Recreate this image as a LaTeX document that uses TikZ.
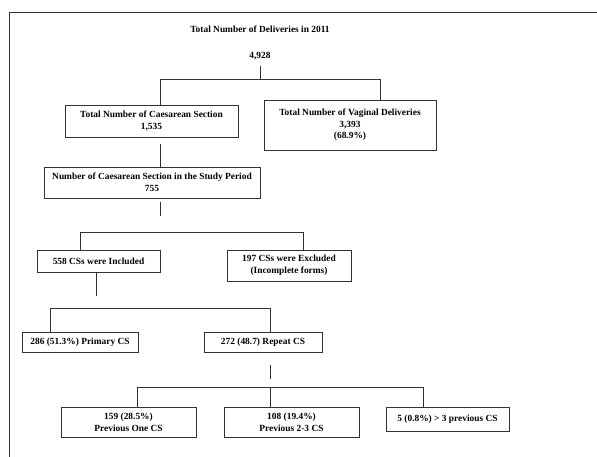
\documentclass[tikz,border=0pt]{standalone}
\usepackage{fontspec}
\setmainfont{Liberation Serif}
\usetikzlibrary{positioning}

\begin{document}
\begin{tikzpicture}[
  x=1pt, y=-1pt,
  line/.style={draw=black!80, line width=0.8pt},
  box/.style={line, fill=white, align=center, inner sep=2pt,
    font=\bfseries\fontsize{9.4}{11.6}\selectfont},
  label/.style={align=center, font=\bfseries\fontsize{9.4}{11.6}\selectfont}
]
\useasboundingbox (0,0) rectangle (597,457);
\draw[line] (9,457) -- (9,12) -- (597,12);

\node[label] (title) at (260,29) {Total Number of Deliveries in 2011};
\node[label] (total) at (260,56) {4,928};
\node[box, minimum width=173pt, minimum height=32pt] (cs) at (151.5,121) {Total Number of Caesarean Section\\1,535};
\node[box, minimum width=172pt, minimum height=50pt] (vag) at (350,125) {Total Number of Vaginal Deliveries\\3,393\\(68.9\%)};
\node[box, minimum width=216pt, minimum height=31pt] (study) at (152,182.5) {Number of Caesarean Section in the Study Period\\755};
\node[box, minimum width=123pt, minimum height=22pt] (incl) at (98.5,261) {558 CSs were Included};
\node[box, minimum width=124pt, minimum height=31pt] (excl) at (289,265.5) {197 CSs were Excluded\\(Incomplete forms)};
\node[box, minimum width=116pt, minimum height=20pt] (prim) at (80,342) {286 (51.3\%) Primary CS};
\node[box, minimum width=118pt, minimum height=20pt] (rep) at (263,342) {272 (48.7) Repeat CS};
\node[box, minimum width=135pt, minimum height=30pt] (one) at (128.5,422) {159 (28.5\%)\\Previous One CS};
\node[box, minimum width=135pt, minimum height=30pt] (two) at (291.5,422) {108 (19.4\%)\\Previous 2-3 CS};
\node[box, minimum width=123pt, minimum height=24pt] (more) at (447.5,419) {5 (0.8\%) > 3 previous CS};

% deliveries split
\coordinate (t1) at (260,66);
\coordinate (t2) at (260,79);
\coordinate (t3) at (160,79);
\coordinate (t4) at (380,79);
\draw[line] (t1) -- (t2);
\draw[line] (t3) -- (t4);
\draw[line] (t3) -- (t3 |- cs.north);
\draw[line] (t4) -- (t4 |- vag.north);

% caesarean to study period
\coordinate (a1) at (160,144);
\draw[line] (a1) -- (a1 |- study.north);

% included / excluded
\coordinate (s1) at (160,202);
\coordinate (s2) at (160,216);
\coordinate (s3) at (80,232);
\coordinate (s4) at (303,232);
\draw[line] (s1) -- (s2);
\draw[line] (s3) -- (s4);
\draw[line] (s3) -- (s3 |- incl.north);
\draw[line] (s4) -- (s4 |- excl.north);

% primary / repeat
\coordinate (i1) at (96,296);
\coordinate (i2) at (50,308);
\coordinate (i3) at (270,308);
\draw[line] (i1 |- incl.south) -- (i1);
\draw[line] (i2 |- prim.north) -- (i2) -- (i3) -- (i3 |- rep.north);

% previous CS
\coordinate (r1) at (270,365);
\coordinate (r2) at (270,379);
\coordinate (r3) at (137,387);
\coordinate (r4) at (423,387);
\draw[line] (r1) -- (r2);
\draw[line] (r3) -- (r4);
\draw[line] (r3) -- (r3 |- one.north);
\draw[line] (r2 |- r3) -- (r2 |- two.north);
\draw[line] (r4) -- (r4 |- more.north);
\end{tikzpicture}
\end{document}
